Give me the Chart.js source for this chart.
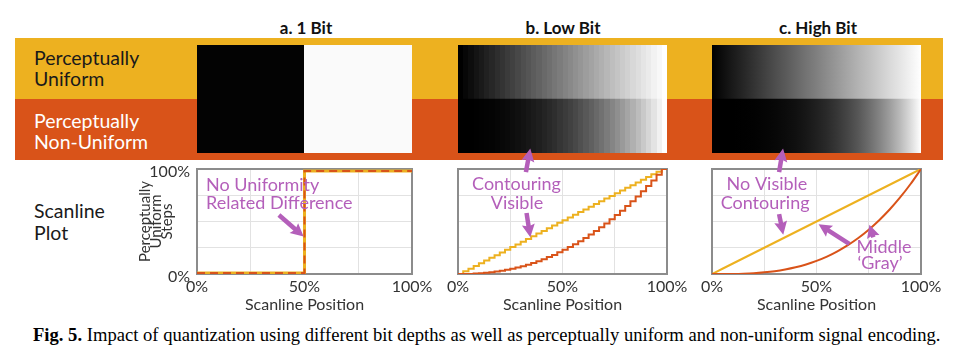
<!DOCTYPE html>
<html>
<head>
<meta charset="utf-8">
<script src="https://cdn.jsdelivr.net/npm/chart.js@4.4.0/dist/chart.umd.min.js"></script>
<style>
	body { margin: 0; background: #fff; }
	#fig { position: relative; width: 978px; height: 364px; overflow: hidden; background: #fff; font-family: Lato, sans-serif; }
	.band { position: absolute; left: 15px; width: 928px; height: 61px; }
	.head { position: absolute; width: 200px; text-align: center; font-weight: bold; font-size: 17px; line-height: 20px; color: #111; top: 18px; }
	.rowlab { position: absolute; left: 34px; font-size: 19.5px; line-height: 21px; white-space: nowrap; }
	canvas { position: absolute; }
	.strip { z-index: 1; }
	.plot { z-index: 2; }
	#caption { position: absolute; left: 33px; top: 324px; font-family: "Liberation Serif", serif; font-size: 18.6px; color: #000; white-space: nowrap; }
</style>
</head>
<body>
<div id="fig">
	<div class="head" style="left:206px">a. 1 Bit</div>
	<div class="head" style="left:463px">b. Low Bit</div>
	<div class="head" style="left:718px">c. High Bit</div>

	<div class="band" style="top:38px;background:#EDB120"></div>
	<div class="band" style="top:99px;background:#D95319"></div>

	<div class="rowlab" style="top:47px;color:#1a1a1a">Perceptually<br>Uniform</div>
	<div class="rowlab" style="top:110px;color:#fff">Perceptually<br>Non-Uniform</div>
	<div class="rowlab" style="top:200px;color:#1a1a1a;line-height:22px">Scanline<br>Plot</div>

	<canvas id="strip-a" class="strip" width="215" height="108" style="left:197px;top:45px"></canvas>
	<canvas id="strip-b" class="strip" width="209" height="108" style="left:458px;top:45px"></canvas>
	<canvas id="strip-c" class="strip" width="209" height="108" style="left:712px;top:45px"></canvas>

	<canvas id="plot-a" class="plot" width="340" height="185" style="left:110px;top:140px"></canvas>
	<canvas id="plot-b" class="plot" width="260" height="185" style="left:440px;top:140px"></canvas>
	<canvas id="plot-c" class="plot" width="260" height="185" style="left:694px;top:140px"></canvas>

	<div id="caption"><b>Fig. 5.</b> Impact of quantization using different bit depths as well as perceptually uniform and non-uniform signal encoding.</div>
</div>
<script>
const YELLOW = "#EDB120";
const ORANGE = "#D95319";
const NOTE_COLOR = "#B45FBA";
const ROWS = ["Perceptually Uniform", "Perceptually Non-Uniform"];

// a. 1 bit
const oneBitX = [0, 50, 100];
const oneBitUniform = [1, 98, 98];
const oneBitNonUniform = [1, 98, 98];

// b. low bit (40 levels)
const lowBitX = [0, 2.5, 5, 7.5, 10, 12.5, 15, 17.5, 20, 22.5, 25, 27.5, 30, 32.5, 35, 37.5, 40, 42.5, 45, 47.5,
	50, 52.5, 55, 57.5, 60, 62.5, 65, 67.5, 70, 72.5, 75, 77.5, 80, 82.5, 85, 87.5, 90, 92.5, 95, 97.5, 100];
const lowBitUniform = [0, 2.6, 5.1, 7.7, 10.3, 12.8, 15.4, 17.9, 20.5, 23.1, 25.6, 28.2, 30.8, 33.3, 35.9, 38.5, 41.0, 43.6, 46.2, 48.7,
	51.3, 53.8, 56.4, 59.0, 61.5, 64.1, 66.7, 69.2, 71.8, 74.4, 76.9, 79.5, 82.1, 84.6, 87.2, 89.7, 92.3, 94.9, 97.4, 100, 100];
const lowBitNonUniform = [0, 0.03, 0.1, 0.4, 0.7, 1.1, 1.6, 2.3, 3.1, 4.0, 5.0, 6.2, 7.5, 8.9, 10.5, 12.2, 14.1, 16.1, 18.2, 20.6,
	23.0, 25.6, 28.4, 31.3, 34.4, 37.6, 41.0, 44.5, 48.2, 52.1, 56.1, 60.3, 64.7, 69.2, 73.9, 78.8, 83.9, 89.1, 94.5, 100, 100];

// c. high bit
const highBitX = [0, 5, 10, 15, 20, 25, 30, 35, 40, 45, 50, 55, 60, 65, 70, 75, 80, 85, 90, 95, 100];
const highBitUniform = [0, 5, 10, 15, 20, 25, 30, 35, 40, 45, 50, 55, 60, 65, 70, 75, 80, 85, 90, 95, 100];
const highBitNonUniform = [0, 0.01, 0.1, 0.34, 0.8, 1.6, 2.7, 4.3, 6.4, 9.1, 12.5, 16.6, 21.6, 27.5, 34.3, 42.2, 51.2, 61.4, 72.9, 85.7, 100];

const yTicks = [0, 25, 50, 75, 100];
const xTickLabels = ["0%", "", "50%", "", "100%"];

const $ = (id) => document.getElementById(id);
const gray = (v) => {
	var g = Math.round(Math.max(0, Math.min(100, v)) * 2.55);
	return `rgb(${g},${g},${g})`;
};
const points = (xs, ys) => xs.map((x, i) => ({ x: x, y: ys[i] }));

const stripGradient = (chart, xs, levels, stepped) => {
	var area = chart.chartArea;
	if (!area) return "#000";
	var g = chart.ctx.createLinearGradient(area.left, 0, area.right, 0);
	if (stepped) {
		for (var i = 0; i < xs.length - 1; i++) {
			g.addColorStop(xs[i] / 100, gray(levels[i]));
			g.addColorStop(xs[i + 1] / 100, gray(levels[i]));
		}
	} else {
		xs.forEach((x, i) => g.addColorStop(x / 100, gray(levels[i])));
	}
	return g;
};

const drawStrip = (canvas, xs, top, bottom, stepped) => {
	return new Chart(canvas, {
		type: "bar",
		data: {
			labels: ROWS,
			datasets: [{
				data: [100, 100],
				backgroundColor: (c) => stripGradient(c.chart, xs, c.dataIndex === 0 ? top : bottom, stepped),
				borderWidth: 0,
				barPercentage: 1,
				categoryPercentage: 1,
			}],
		},
		options: {
			indexAxis: "y",
			responsive: false,
			devicePixelRatio: 1,
			animation: false,
			layout: { padding: 0 },
			scales: {
				x: { display: false, min: 0, max: 100 },
				y: { display: false },
			},
			plugins: { legend: { display: false }, tooltip: { enabled: false } },
		},
	});
};

const drawArrow = (ctx, x1, y1, x2, y2) => {
	var ang = Math.atan2(y2 - y1, x2 - x1);
	var head = 11, half = 6.5;
	var bx = x2 - head * Math.cos(ang), by = y2 - head * Math.sin(ang);
	ctx.beginPath();
	ctx.moveTo(x1, y1);
	ctx.lineTo(bx + Math.cos(ang), by + Math.sin(ang));
	ctx.lineWidth = 4.5;
	ctx.stroke();
	ctx.beginPath();
	ctx.moveTo(x2, y2);
	ctx.lineTo(bx + half * Math.sin(ang) - 2 * Math.cos(ang), by - half * Math.cos(ang) - 2 * Math.sin(ang));
	ctx.lineTo(bx, by);
	ctx.lineTo(bx - half * Math.sin(ang) - 2 * Math.cos(ang), by + half * Math.cos(ang) - 2 * Math.sin(ang));
	ctx.closePath();
	ctx.fill();
};

// box round the plot + purple notes and arrows
const notesPlugin = (notes) => ({
	id: "notes",
	beforeDatasetsDraw(chart) {
		var a = chart.chartArea, ctx = chart.ctx;
		ctx.save();
		ctx.strokeStyle = "#8c8c8c";
		ctx.lineWidth = 2;
		ctx.strokeRect(a.left, a.top, a.right - a.left, a.bottom - a.top);
		ctx.restore();
	},
	afterDraw(chart) {
		var ctx = chart.ctx, sx = chart.scales.x, sy = chart.scales.y;
		ctx.save();
		ctx.fillStyle = NOTE_COLOR;
		ctx.strokeStyle = NOTE_COLOR;
		ctx.font = "18px Lato, sans-serif";
		ctx.textBaseline = "middle";
		notes.texts.forEach((t) => {
			ctx.textAlign = t.align || "center";
			ctx.fillText(t.text, sx.getPixelForValue(t.x), sy.getPixelForValue(t.y));
		});
		notes.arrows.forEach((r) => {
			drawArrow(ctx,
				sx.getPixelForValue(r[0]), sy.getPixelForValue(r[1]),
				sx.getPixelForValue(r[2]), sy.getPixelForValue(r[3]));
		});
		ctx.restore();
	},
});

const drawScanline = (canvas, datasets, yAxisWidth, showY, notes) => {
	return new Chart(canvas, {
		type: "line",
		data: { datasets: datasets },
		plugins: [notesPlugin(notes)],
		options: {
			responsive: false,
			devicePixelRatio: 1,
			animation: false,
			layout: { padding: { left: 0, top: 29, right: canvas.width - yAxisWidth - (canvas.id === "plot-a" ? 215 : 209), bottom: 0 } },
			elements: { point: { radius: 0 } },
			scales: {
				x: {
					type: "linear",
					min: 0,
					max: 100,
					afterFit: (s) => { s.height = 51; },
					afterBuildTicks: (s) => { s.ticks = yTicks.map((v) => ({ value: v })); },
					ticks: {
						autoSkip: false,
						maxRotation: 0,
						padding: 3,
						color: "#333",
						font: { family: "Lato", size: 16 },
						callback: (v) => xTickLabels[yTicks.indexOf(v)] || "",
					},
					grid: { color: "#e2e2e2", drawTicks: false },
					border: { display: false },
					title: {
						display: true,
						text: "Scanline Position",
						color: "#333",
						font: { family: "Lato", size: 16 },
						padding: { top: 0, bottom: 11 },
					},
				},
				y: {
					type: "linear",
					min: 0,
					max: 100,
					afterFit: (s) => { s.width = yAxisWidth; },
					afterBuildTicks: (s) => { s.ticks = yTicks.map((v) => ({ value: v })); },
					ticks: {
						padding: 7,
						labelOffset: 3,
						color: "#333",
						font: { family: "Lato", size: 16 },
						callback: (v) => (showY && (v === 0 || v === 100) ? v + "%" : ""),
					},
					grid: { color: "#e2e2e2", drawTicks: false },
					border: { display: false },
					title: {
						display: showY,
						text: ["Perceptually", "Uniform", "Steps"],
						color: "#333",
						font: { family: "Lato", size: 15, lineHeight: 0.72 },
						padding: { top: 30, bottom: 0 },
					},
				},
			},
			plugins: { legend: { display: false }, tooltip: { enabled: false } },
		},
	});
};

drawStrip($("strip-a"), oneBitX, oneBitUniform, oneBitNonUniform, true);
drawStrip($("strip-b"), lowBitX, lowBitUniform, lowBitNonUniform, true);
drawStrip($("strip-c"), highBitX, highBitUniform, highBitNonUniform, false);

drawScanline($("plot-a"), [
	{ data: points(oneBitX, oneBitNonUniform), stepped: true, borderColor: ORANGE, borderWidth: 2, borderDash: [8, 5] },
	{ data: points(oneBitX, oneBitUniform), stepped: true, borderColor: YELLOW, borderWidth: 3 },
], 87, true, {
	texts: [
		{ text: "No Uniformity", x: 4.2, y: 84.8, align: "left" },
		{ text: "Related Difference", x: 4.2, y: 67.6, align: "left" },
	],
	arrows: [[38.1, 56.2, 49.6, 35.6]],
});

drawScanline($("plot-b"), [
	{ data: points(lowBitX, lowBitNonUniform), stepped: true, borderColor: ORANGE, borderWidth: 2 },
	{ data: points(lowBitX, lowBitUniform), stepped: true, borderColor: YELLOW, borderWidth: 2 },
], 18, false, {
	texts: [
		{ text: "Contouring", x: 28.0, y: 85.7 },
		{ text: "Visible", x: 28.2, y: 67.6 },
	],
	arrows: [[32.8, 58.1, 34.6, 35.0], [32.5, 97.1, 34.6, 119.5]],
});

drawScanline($("plot-c"), [
	{ data: points(highBitX, highBitNonUniform), borderColor: ORANGE, borderWidth: 2, cubicInterpolationMode: "monotone" },
	{ data: points(highBitX, highBitUniform), borderColor: YELLOW, borderWidth: 2 },
], 18, false, {
	texts: [
		{ text: "No Visible", x: 26.3, y: 85.7 },
		{ text: "Contouring", x: 25.4, y: 67.6 },
		{ text: "Middle", x: 82.3, y: 25.4 },
		{ text: "\u2018Gray\u2019", x: 80.4, y: 10.5 },
	],
	arrows: [[32.1, 57.0, 34.1, 37.5], [32.1, 97.1, 34.0, 119.5], [65.7, 28.6, 51.0, 47.5], [77.2, 35.0, 75.3, 47.0]],
});
</script>
</body>
</html>
